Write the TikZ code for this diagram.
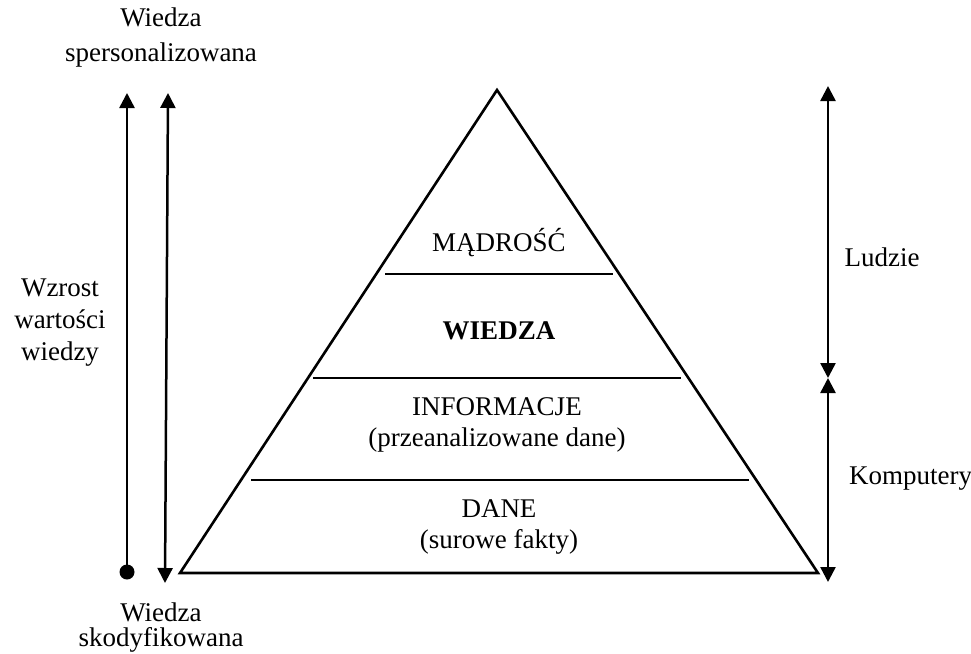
\documentclass[tikz,border=0pt]{standalone}
\usepackage{fontspec}
\setmainfont{Liberation Serif}
\usetikzlibrary{arrows.meta}
\begin{document}
\begin{tikzpicture}[x=1pt,y=-1pt,
  lbl/.style={font=\fontsize{27}{31}\selectfont, inner sep=0pt, align=center},
  edge/.style={line width=2.6pt},
  arr/.style={line width=2.5pt, -{Triangle[width=15pt,length=15pt]}},
  darr/.style={line width=2.5pt, {Triangle[width=15pt,length=15pt]}-{Triangle[width=15pt,length=15pt]}}]
\useasboundingbox (0,0) rectangle (971,653);
% pyramid
\coordinate (apex) at (497,90);
\coordinate (bl) at (180,573);
\coordinate (br) at (818,573);
\draw[edge, line join=miter] (apex) -- (bl) -- (br) -- cycle;
\coordinate (l1a) at (385,274); \coordinate (l1b) at (613,274);
\coordinate (l2a) at (313,378); \coordinate (l2b) at (681,378);
\coordinate (l3a) at (251,480); \coordinate (l3b) at (749,480);
\draw[edge] (l1a) -- (l1b);
\draw[edge] (l2a) -- (l2b);
\draw[edge] (l3a) -- (l3b);
% level labels
\node[lbl] (madr) at (499,243) {MĄDROŚĆ};
\node[lbl, font=\fontsize{27}{31}\selectfont\bfseries] (wiedza) at (499,331) {WIEDZA};
\node[lbl] (inf) at (497,425) {INFORMACJE\\(przeanalizowane dane)};
\node[lbl] (dane) at (499,527) {DANE\\(surowe fakty)};
% left arrows
\coordinate (a1b) at (127,572); \coordinate (a1t) at (127,93);
\coordinate (a2t) at (168,93); \coordinate (a2b) at (165,583);
\fill (a1b) circle (7.5pt);
\draw[arr] (a1b) -- (a1t);
\draw[{Triangle[width=15pt,length=15pt]}-{Triangle[width=15pt,length=15pt]}, line width=2.5pt] (a2t) -- (a2b);
\node[lbl] (top) at (161,38) {Wiedza\\[4pt]spersonalizowana};
\node[lbl] (bot) at (161,628) {Wiedza\\[-6pt]skodyfikowana};
\node[lbl] (wzr) at (60,323) {Wzrost\\[1pt]wartości\\[1pt]wiedzy};
% right arrows
\coordinate (r1) at (828,86); \coordinate (r2) at (828,378); \coordinate (r3) at (828,582);
\draw[darr] (r1) -- (r2);
\draw[darr] (r2) -- (r3);
\node[lbl] (ludzie) at (882,257) {Ludzie};
\node[lbl, anchor=west] (komp) at (849,479) {Komputery};
\end{tikzpicture}
\end{document}
